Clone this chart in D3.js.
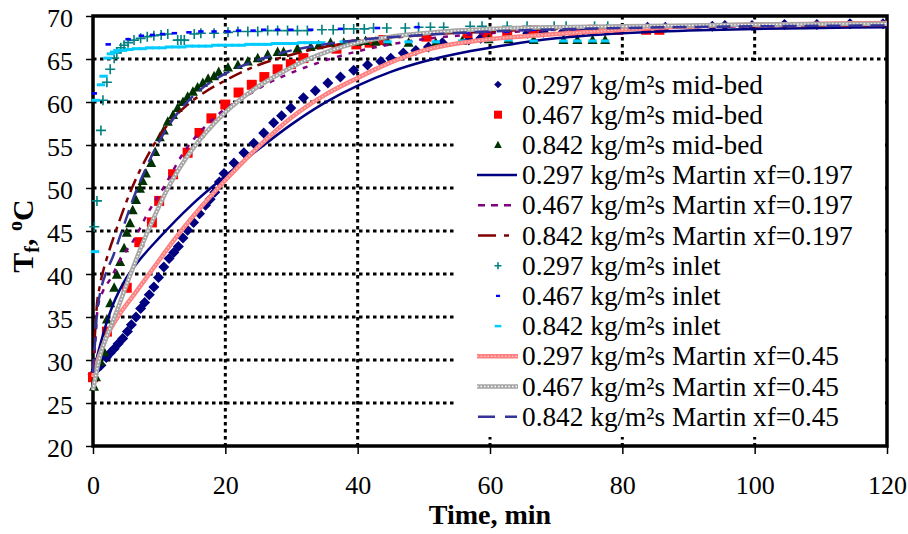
<!DOCTYPE html>
<html><head><meta charset="utf-8">
<script src="https://cdn.jsdelivr.net/npm/d3@7/dist/d3.min.js"></script>
<style>body{margin:0;background:#fff}svg{display:block}text{font-family:"Liberation Serif","Times New Roman",serif}</style>
</head><body><svg id="c" width="908" height="534"></svg>
<script>
// ---- data (time min, temperature °C) ----
const xTicks = [0,20,40,60,80,100,120];
const yTicks = [20,25,30,35,40,45,50,55,60,65,70];
const legendLabels = [
 "0.297 kg/m²s mid-bed","0.467 kg/m²s mid-bed","0.842 kg/m²s mid-bed",
 "0.297 kg/m²s Martin xf=0.197","0.467 kg/m²s Martin xf=0.197","0.842 kg/m²s Martin xf=0.197",
 "0.297 kg/m²s inlet","0.467 kg/m²s inlet","0.842 kg/m²s inlet",
 "0.297 kg/m²s Martin xf=0.45","0.467 kg/m²s Martin xf=0.45","0.842 kg/m²s Martin xf=0.45"];

const mid297 = [[0,28.3],[0.5,28.9],[1.2,29.4],[2.0,30.3],[2.6,30.8],[3.2,31.3],[3.8,31.9],[4.5,32.5],[5.2,33.3],[5.8,34.1],[6.5,35.0],[7.2,36.0],[7.8,36.7],[8.5,37.6],[9.2,38.5],[9.9,39.6],[10.7,40.8],[11.5,41.8],[12.2,42.5],[12.9,43.2],[13.6,44.2],[14.3,45.1],[15.2,46.0],[16.1,47.0],[17.0,48.0],[17.7,48.7],[18.4,49.5],[19.1,50.7],[19.8,51.7],[21.3,52.9],[22.8,54.1],[24.3,55.2],[25.8,56.4],[27.3,57.6],[28.5,58.4],[29.9,59.3],[31.8,60.5],[33.6,61.3],[35.5,62.2],[37.4,62.9],[39.4,63.7],[41.5,64.3],[43.5,64.7],[45.0,65.1],[46.9,65.7],[48.8,66.0],[50.7,66.4],[52.8,66.9],[56.8,67.2],[58.6,67.4],[65.7,68.0],[68.1,68.1],[71.1,68.2],[74.1,68.3],[77.7,68.5],[83.8,68.7],[86.5,68.7],[93.6,68.8],[95.5,68.9],[99.6,68.9],[104.5,69.0],[109.4,69.0],[114.4,69.1],[119.4,69.1]];
const mid467 = [[0,28.0],[2.1,33.3],[5.1,38.4],[7.0,43.7],[8.9,46.0],[10.0,48.5],[12.1,51.6],[14.3,54.1],[16.1,56.4],[17.9,58.1],[20.0,59.7],[22.0,61.1],[24.0,62.0],[25.9,62.9],[27.9,63.8],[29.9,64.4],[31.8,65.1],[36.8,66.2],[39.8,66.7],[41.8,66.9],[43.9,67.2],[50.4,67.6],[56.6,68.0],[59.6,68.1],[62.6,68.1],[66.6,68.3],[72.6,68.3],[75.5,68.4],[79.4,68.4],[83.6,68.4],[85.6,68.4]];
const mid842 = [[0.15,26.9],[0.45,28.0],[1.1,29.8],[1.7,30.9],[2.1,34.7],[2.6,36.6],[3.2,38.4],[3.6,39.9],[4.1,41.4],[4.7,43.0],[5.1,44.8],[5.6,45.9],[6.0,47.4],[6.5,48.6],[7.1,49.9],[7.5,50.8],[8.0,51.7],[8.8,52.9],[9.4,54.2],[10.1,55.9],[10.7,56.7],[11.3,57.7],[12.1,58.5],[12.8,59.3],[13.6,60.0],[14.3,60.6],[15.1,61.2],[15.8,61.7],[16.6,62.2],[17.4,62.7],[18.3,63.0],[19.0,63.5],[20.4,64.0],[21.9,64.3],[23.4,64.7],[24.9,65.1],[26.4,65.5],[27.9,65.8],[28.8,65.8],[30.9,66.2],[32.9,66.4],[34.1,66.6],[35.9,66.9],[37.9,66.9],[40.0,67.0],[41.2,67.1],[42.7,67.0],[44.5,67.0],[47.7,66.9],[51.8,66.9],[55.8,67.1],[59.8,67.3],[62.8,67.3],[66.6,67.2],[71.1,67.2],[73.2,67.2],[75.5,67.2],[77.4,67.2]];

const martin297_197 = [[0,28.5],[1,31.5],[2,34.2],[3,36.4],[4,38.1],[5,39.5],[7,41.6],[10,44.2],[15,48.1],[20,51.4],[25,54.5],[30,57.4],[35,59.9],[40,61.9],[45,63.5],[50,64.7],[55,65.6],[60,66.3],[70,67.4],[80,68.0],[90,68.3],[100,68.5],[110,68.6],[120,68.7]];
const martin467_197 = [[0,28.0],[0.3,31.5],[0.7,36.0],[1.5,38.0],[2.7,39.5],[4,41.5],[6.2,44.0],[8.3,47.1],[10.7,50.1],[13.6,54.0],[17,57.2],[20,59.2],[23.4,60.8],[26,62.0],[30,63.4],[35,64.8],[40,65.9],[45,66.7],[50,67.3],[55,67.7],[60,68.0],[70,68.4],[80,68.6],[90,68.7],[100,68.8],[120,68.9]];
const martin842_197 = [[0,28.5],[0.3,33.0],[0.6,36.5],[1,38.5],[2,41.6],[3,44.0],[4,46.2],[5,48.3],[6,50.2],[8,53.4],[10,56.0],[12,58.0],[14,59.5],[17,61.2],[20,62.5],[25,64.3],[30,65.5],[35,66.4],[40,67.0],[50,67.8],[60,68.2],[70,68.5],[80,68.6],[100,68.8],[120,68.9]];

const inlet297 = [[0.2,45.5],[0.6,48.5],[1.2,56.7],[1.5,60.2],[2.1,62.3],[2.6,63.8],[3.2,65.1],[3.6,65.7],[4.2,66.3],[4.7,66.6],[5.3,66.9],[6.2,67.2],[7.2,67.4],[8.2,67.6],[9.2,67.7],[10.3,67.8],[11.3,67.9],[12.8,67.2],[13.3,67.2],[13.8,67.2],[15.3,67.9],[16.3,68.0],[18.3,68.0],[20.4,68.1],[21.9,68.2],[23.4,68.2],[24.9,68.2],[26.4,68.3],[27.9,68.3],[29.4,68.3],[30.9,68.3],[32.4,68.3],[34.6,68.4],[36.3,68.4],[37.9,68.5],[39.4,68.5],[41.0,68.5],[42.4,68.6],[44.4,68.6],[47.2,68.6],[49.2,68.7],[51.0,68.7],[53.0,68.7],[57.0,68.8],[58.8,68.8],[62.6,68.8],[65.6,68.8],[69.7,68.8],[71.5,68.8],[75.8,68.8],[77.8,68.8]];
const inlet467 = [[0.2,61.0],[2.3,66.7],[5.3,67.3],[7.3,67.7],[9.0,67.8],[10.5,67.9],[12.3,68.0],[14.5,68.1],[16.3,68.2],[18.3,68.2],[20.4,68.2],[22.0,68.3],[24.2,68.3],[25.8,68.4],[27.9,68.4],[29.9,68.4],[32.9,68.4],[37.4,68.5],[43.0,68.6],[49.0,68.7],[56.6,68.1],[59.6,68.2],[62.6,68.2],[66.6,68.4],[72.6,68.4],[75.5,68.5],[79.4,68.5],[83.6,68.5],[85.6,68.5]];
const inlet842 = [[0.3,42.6],[0.4,60.2],[1.2,62.0],[1.6,63.0],[2.2,65.1],[2.7,65.6],[3.2,65.8],[3.7,66.0],[4.5,66.0],[5.5,66.1],[6.5,66.2],[7.5,66.2],[8.5,66.3],[9.5,66.3],[10.5,66.3],[11.5,66.4],[12.5,66.4],[13.5,66.4],[14.5,66.5],[15.5,66.5],[16.5,66.5],[17.5,66.5],[18.5,66.6],[19.5,66.6],[20.5,66.6],[21.5,66.6],[22.5,66.6],[23.5,66.7],[24.5,66.7],[25.5,66.7],[26.5,66.7],[27.5,66.8],[28.5,66.8],[29.5,66.8],[30.5,66.8],[31.5,66.9],[32.5,66.9],[33.5,66.9],[34.5,66.9],[37.9,67.0],[40.0,67.0],[44.5,67.0],[47.7,67.0],[51.8,67.0],[55.8,67.1],[59.8,67.2],[62.8,67.2],[66.6,67.1],[71.1,67.1],[73.2,67.1],[75.5,67.1],[77.4,67.1]];

const martin297_45 = [[0,28.0],[0.5,29.4],[1,30.6],[2,32.6],[4,35.3],[6,37.4],[8,39.5],[10,41.6],[12,43.7],[15,46.6],[20,50.9],[25,54.8],[30,58.2],[35,60.8],[40,62.8],[45,64.6],[50,66.0],[55,66.8],[60,67.3],[70,67.9],[80,68.4],[90,68.8],[100,69.0],[110,69.1],[120,69.2]];
const martin467_45 = [[0,26.5],[1,30.3],[2,32.6],[3,34.5],[5,38.6],[7,42.6],[9,46.2],[11,49.5],[14,53.4],[17,56.4],[20,58.8],[24,61.3],[28,63.2],[32,64.8],[36,66.0],[40,66.9],[45,67.6],[50,68.0],[55,68.3],[60,68.5],[70,68.7],[80,68.8],[100,69.0],[120,69.1]];
const martin842_45 = [[0,28.5],[0.3,32.0],[0.6,35.5],[1,37.5],[2,40.2],[3,42.0],[4,44.2],[5,46.4],[6,48.6],[8,52.3],[10,55.4],[12,57.9],[14,59.8],[16,61.3],[18,62.4],[20,63.3],[25,64.9],[30,66.0],[35,66.7],[40,67.2],[50,67.8],[60,68.2],[80,68.6],[100,68.8],[120,68.9]];

// ---- drawing ----
const svg = d3.select("#c");
const L=93, R=887, T=16, B=446;
const x = d3.scaleLinear().domain([0,120]).range([L,R]);
const y = d3.scaleLinear().domain([20,70]).range([B,T]);

// gridlines
const grid = svg.append("g").attr("stroke","#000").attr("stroke-width",3).attr("stroke-dasharray","3.5,3.5");
grid.selectAll("line.h").data(yTicks.slice(1,-1)).join("line")
  .attr("x1",L).attr("x2",R).attr("y1",d=>y(d)).attr("y2",d=>y(d));
grid.selectAll("line.v").data(xTicks.slice(1,-1)).join("line")
  .attr("y1",T).attr("y2",B).attr("x1",d=>x(d)).attr("x2",d=>x(d));

// axes
const yAxis = d3.axisLeft(y).tickValues(yTicks).tickSize(7).tickPadding(13).tickSizeOuter(0);
const gy = svg.append("g").attr("transform",`translate(${L},0)`).call(yAxis);
const xAxis = d3.axisBottom(x).tickValues(xTicks).tickSize(8).tickPadding(22).tickSizeOuter(0);
const gx = svg.append("g").attr("transform",`translate(0,${B})`).call(xAxis);
[gy,gx].forEach(g=>{
  g.select(".domain").remove();
  g.selectAll("line").attr("stroke","#000").attr("stroke-width",1.5);
  g.selectAll("text").attr("font-size",26).attr("fill","#000").attr("font-family","Liberation Serif, serif");
});
gy.selectAll("text").attr("dy","0.4em");

// frame
svg.append("rect").attr("x",L).attr("y",T).attr("width",R-L).attr("height",B-T)
  .attr("fill","none").attr("stroke","#000").attr("stroke-width",3.5);

// titles
svg.append("text").attr("x",(x(0)+x(120))/2).attr("y",524).attr("text-anchor","middle")
  .attr("font-size",28).attr("font-weight","bold").text("Time, min");
const yl = svg.append("text").attr("transform","translate(33,236) rotate(-90)")
  .attr("text-anchor","middle").attr("font-size",30).attr("font-weight","bold");
yl.append("tspan").text("T");
yl.append("tspan").attr("font-size",20).attr("dy",6).text("f");
yl.append("tspan").attr("dy",-6).text(", ");
yl.append("tspan").attr("font-size",20).attr("dy",-11).text("o");
yl.append("tspan").attr("dy",11).text("C");

const line = d3.line().x(d=>x(d[0])).y(d=>y(d[1])).curve(d3.curveMonotoneX);
const gData = svg.append("g");

// marker helpers
function diamond(g,cx,cy,s){g.append("path").attr("d",`M${cx},${cy-s}L${cx+s},${cy}L${cx},${cy+s}L${cx-s},${cy}Z`).attr("fill","#000080");}
function square(g,cx,cy,s){g.append("rect").attr("x",cx-s).attr("y",cy-s).attr("width",2*s).attr("height",2*s).attr("fill","#FF0000");}
function tri(g,cx,cy,s){g.append("path").attr("d",`M${cx},${cy-s*1.1}L${cx+s},${cy+s*0.8}L${cx-s},${cy+s*0.8}Z`).attr("fill","#003300");}
function plus(g,cx,cy,s){g.append("path").attr("d",`M${cx-s},${cy}H${cx+s}M${cx},${cy-s}V${cy+s}`).attr("stroke","#008080").attr("stroke-width",1.6).attr("fill","none");}
function dash(g,cx,cy,w,h,c){g.append("rect").attr("x",cx-w).attr("y",cy-h/2).attr("width",2*w).attr("height",h).attr("fill",c);}

const lineStyles = {
  navy:{stroke:"#000080",w:2.5,dash:null},
  purple:{stroke:"#800080",w:2.5,dash:"5,7"},
  dred:{stroke:"#800000",w:2.5,dash:"14,6,5,6"},
  pink:{stroke:"#FF8080",w:4.5,dash:null,over:"#FFC8C8"},
  gray:{stroke:"#A6A6A6",w:4.5,dash:null,over:"#FFFFFF"},
  blue:{stroke:"#333399",w:2.5,dash:"14,8"}
};
function drawLine(g,data,st){
  const p = g.append("path").datum(data).attr("d",line).attr("fill","none")
    .attr("stroke",st.stroke).attr("stroke-width",st.w);
  if(st.dash) p.attr("stroke-dasharray",st.dash);
  if(st.over) g.append("path").datum(data).attr("d",line).attr("fill","none")
    .attr("stroke",st.over).attr("stroke-width",1.3).attr("stroke-dasharray","1.5,2");
}
function seg(g,x1,x2,cy,st){
  g.append("line").attr("x1",x1).attr("x2",x2).attr("y1",cy).attr("y2",cy)
    .attr("stroke",st.stroke).attr("stroke-width",st.w).attr("stroke-dasharray",st.dash);
  if(st.over) g.append("line").attr("x1",x1).attr("x2",x2).attr("y1",cy).attr("y2",cy)
    .attr("stroke",st.over).attr("stroke-width",1.3).attr("stroke-dasharray","1.5,2");
}

// series in order
const g1=gData.append("g"); mid297.forEach(d=>diamond(g1,x(d[0]),y(d[1]),5.5));
const g2=gData.append("g"); mid467.forEach(d=>square(g2,x(d[0]),y(d[1]),5));
const g3=gData.append("g"); mid842.forEach(d=>tri(g3,x(d[0]),y(d[1]),5));
drawLine(gData,martin297_197,lineStyles.navy);
drawLine(gData,martin467_197,lineStyles.purple);
drawLine(gData,martin842_197,lineStyles.dred);
const g7=gData.append("g"); inlet297.forEach(d=>plus(g7,x(d[0]),y(d[1]),5));
const g8=gData.append("g"); inlet467.forEach(d=>dash(g8,x(d[0]),y(d[1]),2.7,2.6,"#0000FF"));
const g9=gData.append("g"); inlet842.forEach(d=>dash(g9,x(d[0]),y(d[1]),4.2,3,"#00CCFF"));
drawLine(gData,martin297_45,lineStyles.pink);
drawLine(gData,martin467_45,lineStyles.gray);
drawLine(gData,martin842_45,lineStyles.blue);

// legend
const lg = svg.append("g");
lg.append("rect").attr("x",455).attr("y",61).attr("width",430).attr("height",376).attr("fill","#fff");
const rowY = i => 84.5 + 30.2*i;
legendLabels.forEach((t,i)=>{
  lg.append("text").attr("x",522).attr("y",rowY(i)+9).attr("font-size",27.3).text(t);
});
const sx=498;
diamond(lg,sx,rowY(0),3.8);
square(lg,sx,rowY(1),4);
tri(lg,sx,rowY(2),3.8);
seg(lg,477,517,rowY(3),lineStyles.navy);
seg(lg,478,517,rowY(4),{stroke:"#800080",w:2.5,dash:"7,6"});
seg(lg,478,517,rowY(5),{stroke:"#800000",w:2.5,dash:"18,8,5,10"});
plus(lg,sx,rowY(6),3.5);
dash(lg,sx,rowY(7),2,2.3,"#0000FF");
dash(lg,sx,rowY(8),3.3,2.5,"#00CCFF");
seg(lg,477,518,rowY(9),lineStyles.pink);
seg(lg,477,518,rowY(10),lineStyles.gray);
seg(lg,478,517,rowY(11),{stroke:"#333399",w:2.5,dash:"17,10"});
</script></body></html>
